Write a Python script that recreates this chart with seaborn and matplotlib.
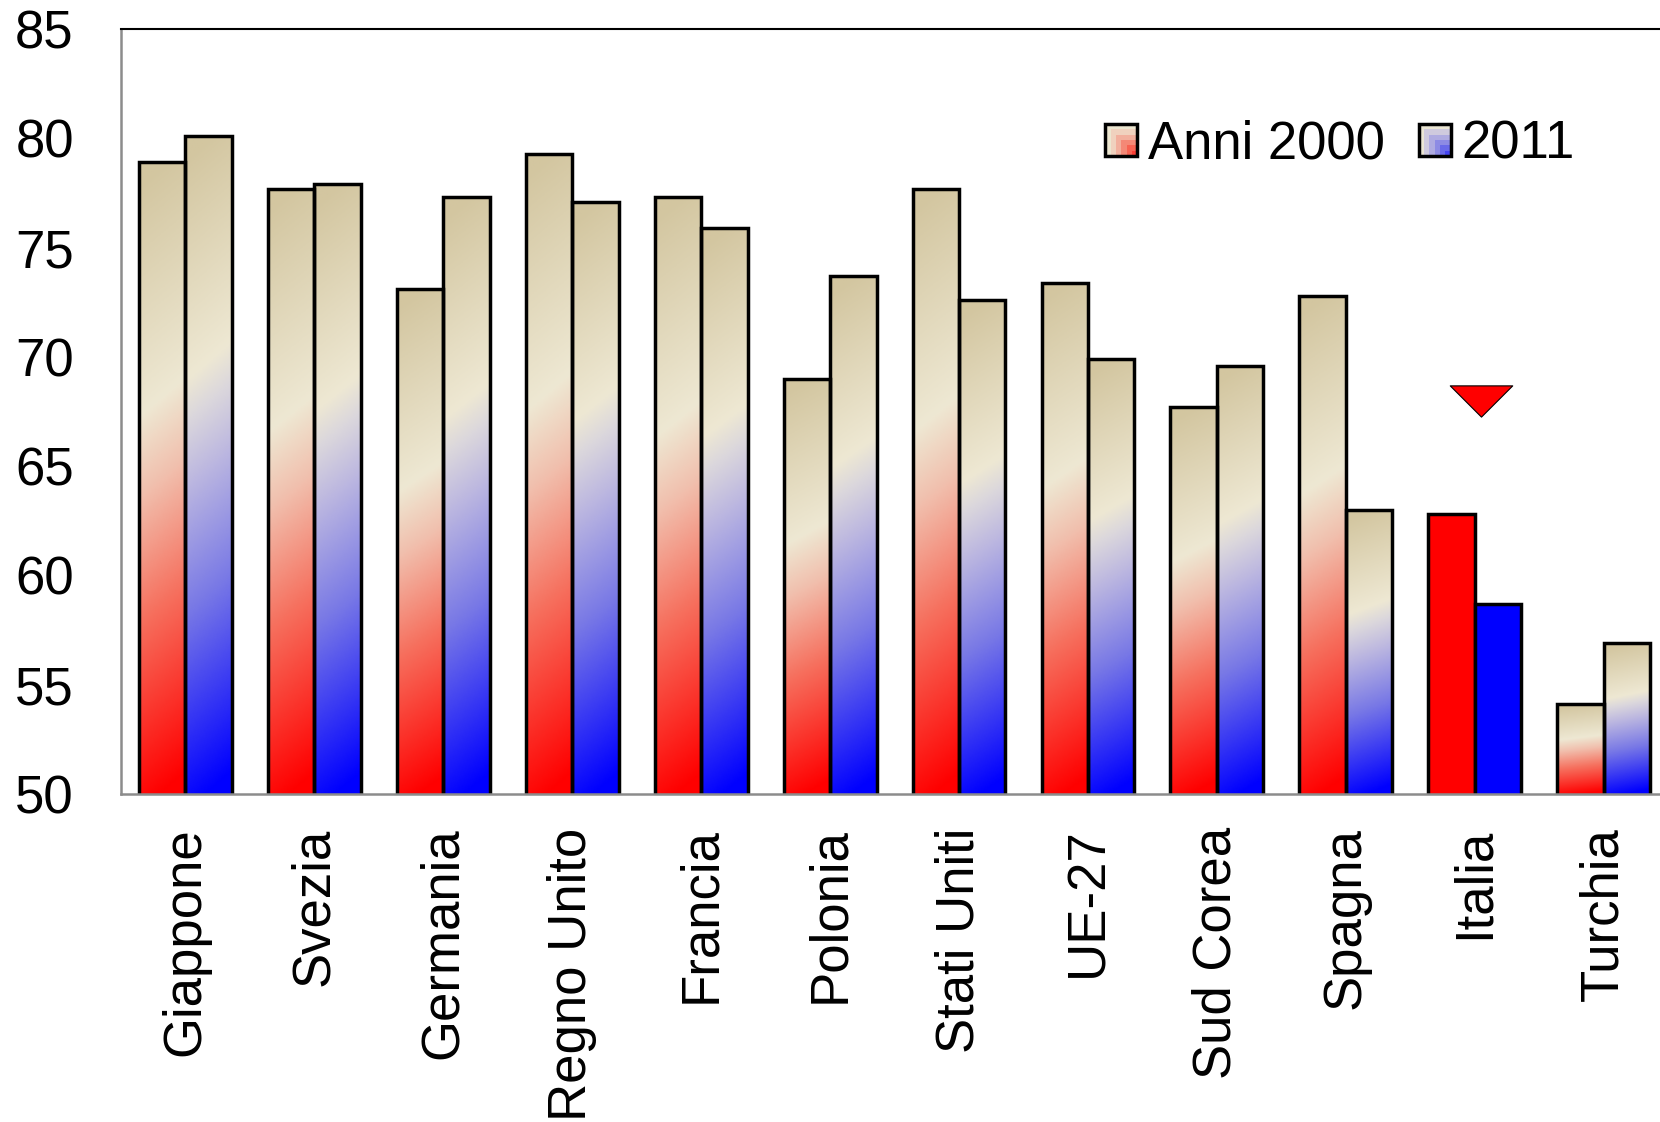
import numpy as np
import pandas as pd
import matplotlib
matplotlib.use("Agg")
import matplotlib.pyplot as plt
import seaborn as sns
from matplotlib.colors import LinearSegmentedColormap
from matplotlib.legend_handler import HandlerBase
from matplotlib.patches import Rectangle, Patch
from matplotlib.path import Path

# dati
paesi = ["Giappone", "Svezia", "Germania", "Regno Unito", "Francia", "Polonia",
         "Stati Uniti", "UE-27", "Sud Corea", "Spagna", "Italia", "Turchia"]
anni_2000 = [78.9, 77.7, 73.1, 79.3, 77.3, 69.0, 77.7, 73.4, 67.7, 72.8, 62.8, 54.1]
anno_2011 = [80.1, 77.9, 77.3, 77.1, 75.9, 73.7, 72.6, 69.9, 69.6, 63.0, 58.7, 56.9]
serie = ["Anni 2000", "2011"]
evidenziato = "Italia"
freccia = 68.0  # posizione del triangolo sopra l'Italia
y_ticks = [50, 55, 60, 65, 70, 75, 80, 85]

df = pd.DataFrame({
    "paese": paesi * 2,
    "valore": anni_2000 + anno_2011,
    "serie": [serie[0]] * len(paesi) + [serie[1]] * len(paesi),
})

sns.set_style("white")
plt.rcParams["font.family"] = ["Liberation Sans", "DejaVu Sans"]
plt.rcParams["text.color"] = "black"
plt.rcParams["xtick.labelcolor"] = "black"
plt.rcParams["ytick.labelcolor"] = "black"

beige_top = "#d3c6a0"
cmap_red = LinearSegmentedColormap.from_list(
    "rosso", [(0, "#ff0000"), (0.3, "#f6705e"), (0.5, "#f1bfad"),
              (0.63, "#eee8d3"), (1.0, beige_top)])
cmap_blue = LinearSegmentedColormap.from_list(
    "blu", [(0, "#0000ff"), (0.3, "#7878e6"), (0.5, "#bdb8e0"),
            (0.6, "#dcd8dc"), (0.66, "#eee8d3"), (1.0, beige_top)])

fig = plt.figure(figsize=(16.6, 11.22), dpi=100)
ax = fig.add_axes([0.0729, 0.2923, 0.932, 0.6818])

sns.barplot(data=df, x="paese", y="valore", hue="serie", order=paesi,
            hue_order=serie, palette=["#ff0000", "#0000ff"], width=0.72,
            edgecolor="black", linewidth=2.5, saturation=1, legend=False, ax=ax)

ymin, ymax = y_ticks[0], y_ticks[-1]

# sfumatura dentro ogni barra (tranne l'Italia)
v = np.linspace(0, 1, 200)[:, None]
u = np.linspace(0, 1, 30)[None, :]
grad = np.clip(v + 0.06 * (1 - u) - 0.03, 0, 1)
idx_it = paesi.index(evidenziato)
for p in ax.patches:
    x0 = p.get_x()
    w = p.get_width()
    top = p.get_y() + p.get_height()
    if top <= ymin:
        continue
    gi = int(round(x0 + w / 2))
    left = (x0 + w / 2) < gi
    if gi == idx_it:
        continue
    cmap = cmap_red if left else cmap_blue
    img = ax.imshow(grad, cmap=cmap, vmin=0, vmax=1, origin="lower",
                    extent=[x0, x0 + w, ymin, top], aspect="auto",
                    interpolation="bilinear", zorder=p.get_zorder() - 0.1)
    img.set_clip_path(p)
    p.set_facecolor("none")

# triangolo rosso sopra l'Italia
tri = Path([(-1, 0.5), (1, 0.5), (0, -0.5), (-1, 0.5)],
           [Path.MOVETO, Path.LINETO, Path.LINETO, Path.CLOSEPOLY])
ax.scatter([idx_it + 0.05], [freccia], marker=tri, s=45 ** 2, color="#ff0000",
           edgecolors="black", linewidths=0.8, zorder=5)

ax.set_xlim(-0.5, len(paesi) - 0.5)
ax.set_ylim(ymin, ymax)
ax.set_yticks(y_ticks)
ax.set_xlabel("")
ax.set_ylabel("")

ax.set_xticks(range(len(paesi)))
ax.set_xticklabels(paesi, rotation=90, va="top", ha="center")
ax.set_xticks(np.arange(-0.5, len(paesi), 1), minor=True)
ax.tick_params(axis="x", which="major", length=0, pad=24, labelsize=38,
               labelcolor="black")
ax.tick_params(axis="x", which="minor", length=11, width=1.5,
               color="#8c8c8c", direction="out")
ax.tick_params(axis="y", length=12, width=1.5, color="#8c8c8c",
               direction="out", pad=22, labelsize=38, labelcolor="black")

for s in ["left", "bottom"]:
    ax.spines[s].set_color("#8c8c8c")
    ax.spines[s].set_linewidth(1.8)
ax.spines["top"].set_color("black")
ax.spines["top"].set_linewidth(1.5)
ax.spines["right"].set_visible(False)


class GradientHandler(HandlerBase):
    def __init__(self, cmap):
        super().__init__()
        self.cmap = cmap

    def create_artists(self, legend, orig_handle, xdescent, ydescent,
                       width, height, fontsize, trans):
        n = 6
        s = height
        x0 = -xdescent + width - s
        y0 = -ydescent
        arts = []
        for i in range(n):
            for j in range(n):
                uu = (i + 0.5) / n
                vv = (j + 0.5) / n
                t = max(1 - uu, vv)
                arts.append(Rectangle((x0 + i * s / n, y0 + j * s / n), s / n, s / n,
                                      facecolor=self.cmap(0.12 + 0.58 * t),
                                      edgecolor="none", transform=trans))
        arts.append(Rectangle((x0, y0), s, s, facecolor="none",
                              edgecolor="black", linewidth=2.5, transform=trans))
        return arts


h1 = Patch(label=serie[0])
h2 = Patch(label=serie[1])
fig.legend(handles=[h1, h2], labels=serie, ncol=2, frameon=False,
           loc="center", bbox_to_anchor=(0.808, 0.871),
           bbox_transform=fig.transFigure, fontsize=38,
           handler_map={h1: GradientHandler(cmap_red), h2: GradientHandler(cmap_blue)},
           handlelength=0.55, handleheight=0.55, handletextpad=0.2,
           columnspacing=0.7, borderpad=0)

fig.savefig("out.png", dpi=100)
